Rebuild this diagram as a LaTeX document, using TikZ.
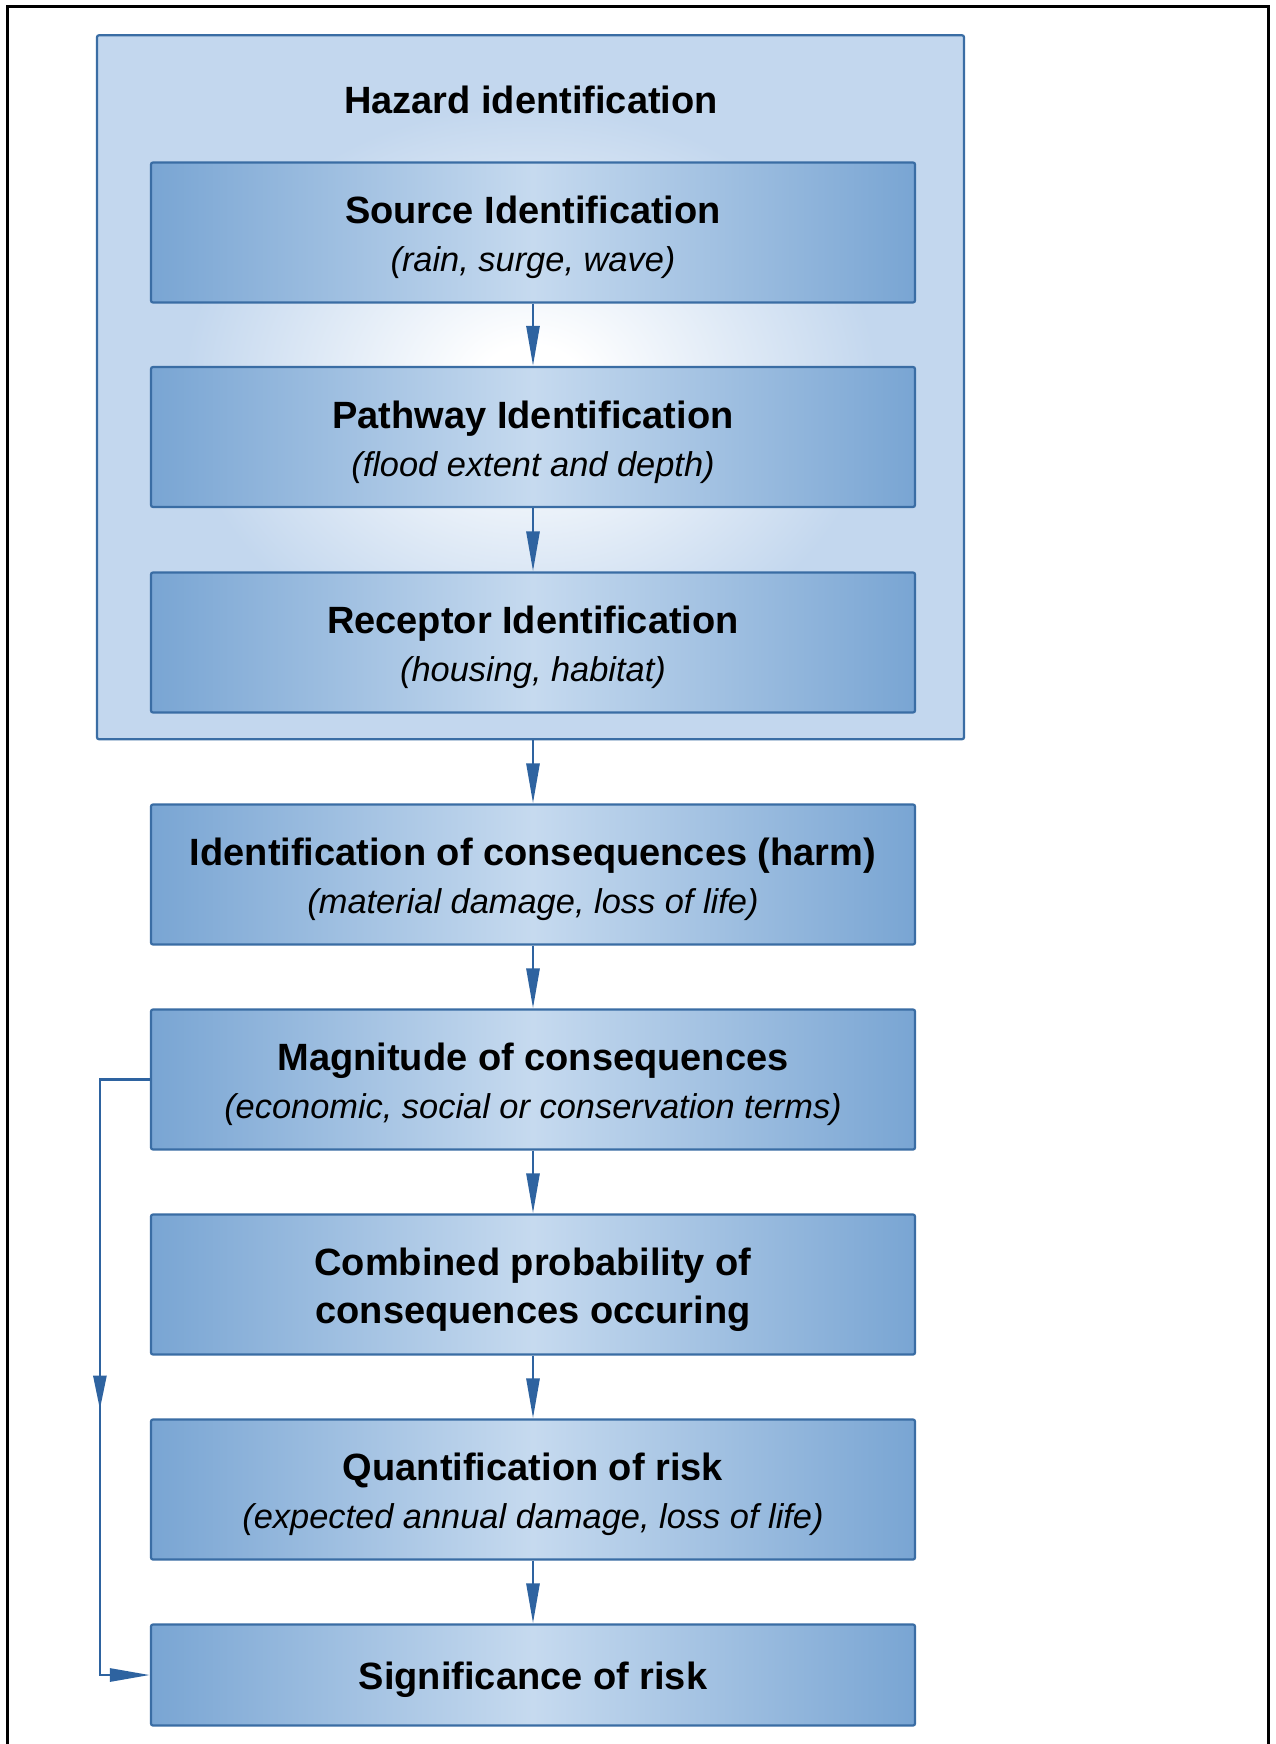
\documentclass[tikz,border=0pt]{standalone}
\usepackage{fontspec}
\setmainfont{Liberation Sans}
\usetikzlibrary{arrows.meta,decorations.markings}
\definecolor{boxedge}{HTML}{79A5D3}
\definecolor{boxmid}{HTML}{C6DAEF}
\definecolor{hazblue}{HTML}{C3D7EE}
\definecolor{lineblue}{HTML}{3A6DA4}
\definecolor{arrowblue}{HTML}{2E63A0}
\pgfdeclareradialshading{hazglow}{\pgfpoint{0bp}{0bp}}{color(0bp)=(white); color(3bp)=(white); color(20bp)=(hazblue); color(50bp)=(hazblue)}
\pgfdeclarehorizontalshading{boxshade}{100bp}{color(0bp)=(boxedge); color(25bp)=(boxedge); color(50bp)=(boxmid); color(75bp)=(boxedge); color(100bp)=(boxedge)}
\tikzset{
  stepbox/.style={draw=lineblue, line width=1.1pt, rounded corners=1pt, shading=boxshade,
    minimum width=382pt, minimum height=70pt, inner sep=0pt},
  boxtext/.style={label={[inner sep=0pt, align=center, yshift=-2.6pt,
    font=\fontsize{19}{24}\selectfont]center:#1}},
  hazbox/.style={draw=lineblue, line width=1.1pt, rounded corners=1pt, shading=hazglow,
    minimum width=433.5pt, minimum height=352pt, inner sep=0pt},
  titletext/.style={font=\fontsize{19}{24}\selectfont\bfseries, inner sep=0pt},
  conn/.style={draw=arrowblue, line width=1.4pt, -{Triangle[length=20pt,width=6.5pt]}},
  fbconn/.style={draw=arrowblue, line width=1.4pt, -{Triangle[length=20pt,width=6.5pt]},
    postaction={decorate},
    decoration={markings, mark=at position 190pt with {\arrow{Triangle[length=17pt,width=6.5pt]}}}},
}
\newcommand{\subt}[1]{{\fontsize{17.2}{24}\selectfont\mdseries\itshape #1}}
\begin{document}
\begin{tikzpicture}[x=0.5pt,y=-0.5pt]
\useasboundingbox (0,0) rectangle (1275,1744);
\fill[white] (0,0) rectangle (1275,1744);
\draw[line width=1.5pt] (7,1744) -- (7,7) -- (1268,7) -- (1268,1744);

\node[hazbox] (haz) at (530.5,387.25) {};
\node[titletext] (hazt) at (531,100) {Hazard identification};

\node[stepbox, boxtext={\textbf{Source Identification}\\\subt{(rain, surge, wave)}}] (src) at (533,232.5) {};
\node[stepbox, boxtext={\textbf{Pathway Identification}\\\subt{(flood extent and depth)}}] (pth) at (533,437) {};
\node[stepbox, boxtext={\textbf{Receptor Identification}\\\subt{(housing, habitat)}}] (rec) at (533,642.5) {};
\node[stepbox, boxtext={\textbf{Identification of consequences (harm)}\\\subt{(material damage, loss of life)}}] (idc) at (533,874.5) {};
\node[stepbox, boxtext={\textbf{Magnitude of consequences}\\\subt{(economic, social or conservation terms)}}] (mag) at (533,1079.5) {};
\node[stepbox, boxtext={\textbf{Combined probability of}\\\textbf{consequences occuring}}] (comb) at (533,1284.5) {};
\node[stepbox, boxtext={\textbf{Quantification of risk}\\\subt{(expected annual damage, loss of life)}}] (qnt) at (533,1489.5) {};
\node[stepbox, minimum height=50.5pt, boxtext={\textbf{Significance of risk}}] (sig) at (533,1675) {};

\draw[conn] (src.south) -- (pth.north);
\draw[conn] (pth.south) -- (rec.north);
\draw[conn] (idc.north |- haz.south) -- (idc.north);
\draw[conn] (idc.south) -- (mag.north);
\draw[conn] (mag.south) -- (comb.north);
\draw[conn] (comb.south) -- (qnt.north);
\draw[conn] (qnt.south) -- (sig.north);
\draw[fbconn] (mag.west) -- ++(-50,0) coordinate (fbtop) |- (sig.west);
\end{tikzpicture}
\end{document}
